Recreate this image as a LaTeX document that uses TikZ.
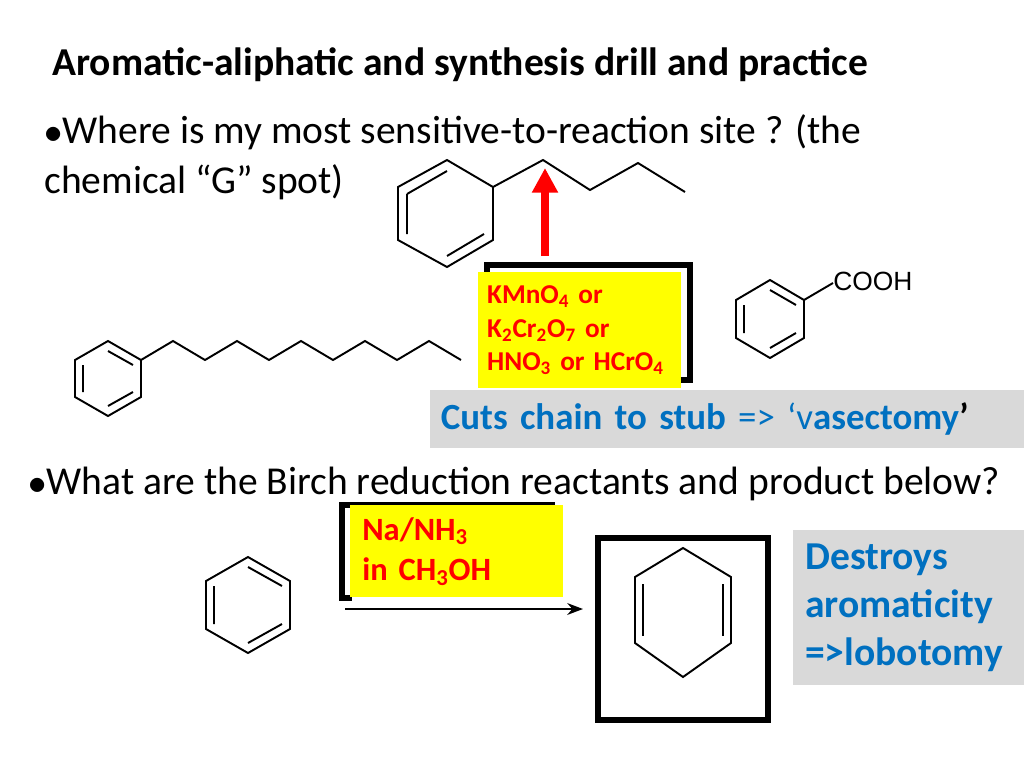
\documentclass[tikz,border=0pt]{standalone}
\usepackage{fontspec}
\usetikzlibrary{arrows.meta}
\setmainfont{Carlito}
\newfontfamily\arialfont{Liberation Sans}
\definecolor{yel}{RGB}{255,255,0}
\definecolor{greybox}{RGB}{217,217,217}
\definecolor{blu}{RGB}{0,112,192}
\definecolor{redtxt}{RGB}{255,0,0}
\newcommand{\sub}[1]{\textsubscript{#1}}
\tikzset{
  bond/.style={line width=1.1pt},
  frame/.style={line width=3pt},
  reagent/.style={fill=yel, text=redtxt, align=left, anchor=north west},
  note/.style={fill=greybox, text=blu, align=left, anchor=north west}
}
\begin{document}
\begin{tikzpicture}[x=0.02cm,y=-0.02cm]
  \useasboundingbox (0,0) rectangle (1024,768);
  %% texts
  \node[anchor=west, font=\bfseries\fontsize{22.5}{26}\selectfont, inner sep=0pt] (title) at (52,65) {Aromatic-aliphatic and synthesis drill and practice};
  \node[anchor=north west, align=left, font=\fontsize{22.5}{28.5}\selectfont, inner sep=0pt] (q1) at (44,114)
    {$\bullet$Where is my most sensitive-to-reaction site ? (the\\chemical “G” spot)};
  \node[anchor=west, font=\fontsize{22.5}{26}\selectfont, inner sep=0pt] (q2) at (28,484)
    {$\bullet$What are the Birch reduction reactants and product below?};
  %% propylbenzene
  \draw[bond] (398,187) -- (447,160) -- (493,187) -- (493,240) -- (447,267) -- (398,240) -- cycle;
  \draw[bond] (407,194) -- (447,171) (484,234) -- (447,256) (407,234) -- (407,194);
  \draw[bond] (493,187) -- (543,160) -- (590,190) -- (638,163) -- (685,192);
  \draw[line width=4pt, redtxt, -{Triangle[length=14pt,width=14pt]}] (545,256) -- (545,168);
  %% oxidation reagents
  \draw[frame] (487,385) -- (487,265) -- (690,265) -- (690,380) -- (628,380);
  \node[reagent, font=\bfseries\fontsize{15.5}{19}\selectfont, text width=185*0.02cm, minimum height=116*0.02cm, inner sep=5pt] (ox) at (478,272)
    {KMnO\sub{4} or\\K\sub{2}Cr\sub{2}O\sub{7} or\\HNO\sub{3} or HCrO\sub{4}};
  %% benzoic acid
  \draw[bond] (736,300) -- (770,280) -- (804,300) -- (804,338) -- (770,358) -- (736,338) -- cycle;
  \draw[bond] (744,305) -- (744,333) (770,290) -- (796,305) (770,348) -- (796,333);
  \draw[bond] (804,300) -- (833,283);
  \node[anchor=west, font=\arialfont\fontsize{15}{17}\selectfont, inner sep=0pt] (cooh) at (833,281) {COOH};
  %% decylbenzene
  \draw[bond] (75,360) -- (108,341) -- (141,360) -- (141,397) -- (108,416) -- (75,397) -- cycle;
  \draw[bond] (83,365) -- (83,392) (108,351) -- (133,365) (108,406) -- (133,392);
  \draw[bond] (141,360) foreach \i in {1,...,10} {-- ({141+32*\i},{ifthenelse(mod(\i,2)==1,341,360)})};
  %% note 1
  \node[note, text width=576*0.02cm, minimum height=58*0.02cm, inner sep=6pt, font=\bfseries\fontsize{21}{24}\selectfont] (n1) at (430,390)
    {Cuts chain to stub \mdseries=> ‘v\bfseries asectomy\textcolor{black}{’}};
  %% Birch
  \draw[bond] (248,557) -- (290,581) -- (290,629) -- (248,653) -- (206,629) -- (206,581) -- cycle;
  \draw[bond] (214,586) -- (214,624) (248,567) -- (282,586) (248,643) -- (282,624);
  \draw[frame] (350,505) -- (342,505) -- (342,598) -- (352,598);
  \draw[frame] (342,505) -- (555,505);
  \node[reagent, text width=189*0.02cm, minimum height=92*0.02cm, inner sep=6.8pt, font=\bfseries\fontsize{18.5}{23}\selectfont] (na) at (350,505)
    {Na/NH\sub{3}\\in CH\sub{3}OH};
  \draw[line width=1pt, -{Stealth[length=9pt]}] (345,609) -- (583,609);
  \draw[frame] (598,720) -- (598,538) -- (768,538) -- (768,720) -- cycle;
  \draw[bond] (683,548) -- (731,577) -- (731,643) -- (683,677) -- (635,643) -- (635,577) -- cycle;
  \draw[bond] (643,584) -- (643,636) (723,584) -- (723,636);
  \node[note, text width=219*0.02cm, minimum height=155*0.02cm, inner sep=6.8pt, font=\bfseries\fontsize{22.5}{27.5}\selectfont] (n2) at (793,530)
    {Destroys\\aromaticity\\=>lobotomy};
\end{tikzpicture}
\end{document}
